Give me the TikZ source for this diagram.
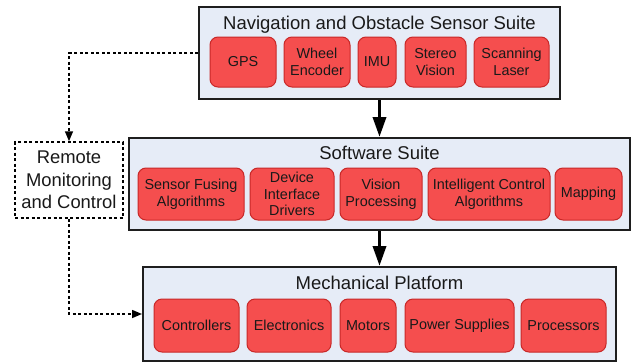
\documentclass[tikz,border=0pt]{standalone}
\usepackage{fontspec}
\setmainfont{Liberation Sans}
\usetikzlibrary{arrows.meta}
\definecolor{innerfill}{RGB}{245,78,78}
\definecolor{innerdraw}{RGB}{200,40,40}
\definecolor{outerfill}{RGB}{230,236,247}
\definecolor{outerdraw}{RGB}{30,30,30}
\definecolor{txt}{RGB}{25,25,25}
\tikzset{
  outerbox/.style={draw=outerdraw, line width=2pt, fill=outerfill, inner sep=0pt},
  unit/.style={draw=innerdraw, line width=1pt, fill=innerfill, rounded corners=8pt,
    align=center, inner sep=0pt, text=txt, minimum height=#1,
    font=\fontsize{14.4}{16.7}\selectfont},
  title/.style={anchor=base, text=txt, inner sep=0pt, font=\fontsize{18.5}{22}\selectfont},
  remotebox/.style={draw=black, line width=1.5pt, dash pattern=on 3pt off 2.5pt, fill=white,
    align=center, inner sep=0pt, text=txt, font=\fontsize{18.4}{22.5}\selectfont},
  bigarrow/.style={draw=black, line width=3.5pt, -{Triangle[width=13pt,length=20pt]}},
  dasharrow/.style={draw=black, line width=1.5pt, dash pattern=on 3pt off 2.5pt,
    -{Triangle[width=8pt,length=10pt]}},
}
\begin{document}
\begin{tikzpicture}[x=1pt,y=-1pt]
\useasboundingbox (0,0) rectangle (632,362);
% top box
\node[outerbox, minimum width=361pt, minimum height=92pt] (nav) at (379.5,53) {};
\node[title] (navt) at (379.5,29) {Navigation and Obstacle Sensor Suite};
\node[unit=50pt, minimum width=66pt] (gps) at (243,62) {GPS};
\node[unit=50pt, minimum width=66pt] (wheel) at (317,62) {Wheel\\Encoder};
\node[unit=50pt, minimum width=38pt] (imu) at (377,62) {IMU};
\node[unit=50pt, minimum width=61pt] (stereo) at (435.5,62) {Stereo\\Vision};
\node[unit=50pt, minimum width=75pt] (laser) at (511.5,62) {Scanning\\Laser};
% software box
\node[outerbox, minimum width=501pt, minimum height=92pt] (soft) at (379.5,184) {};
\node[title] (softt) at (379.5,159) {Software Suite};
\node[unit=52pt, minimum width=106pt] (fuse) at (191,194) {Sensor Fusing\\Algorithms};
\node[unit=52pt, minimum width=84pt] (dev) at (292,194) {Device\\Interface\\Drivers};
\node[unit=52pt, minimum width=82pt] (vis) at (381,194) {Vision\\Processing};
\node[unit=52pt, minimum width=122pt] (intel) at (489,194) {Intelligent Control\\Algorithms};
\node[unit=52pt, minimum width=67pt] (map) at (588.5,194) {Mapping};
% mechanical box
\node[outerbox, minimum width=473pt, minimum height=94pt] (mech) at (379.5,314) {};
\node[title] (mecht) at (379.5,289) {Mechanical Platform};
\node[unit=53pt, minimum width=85pt] (ctrl) at (196.5,325.5) {Controllers};
\node[unit=53pt, minimum width=84pt] (elec) at (289,325.5) {Electronics};
\node[unit=53pt, minimum width=56pt] (mot) at (368,325.5) {Motors};
\node[unit=53pt, minimum width=109pt] (pow) at (459.5,325.5) {Power Supplies};
\node[unit=53pt, minimum width=85pt] (proc) at (563.5,325.5) {Processors};
% remote
\node[remotebox, minimum width=108pt, minimum height=76pt] (remote) at (69,180) {Remote\\Monitoring\\and Control};
% connectors
\draw[bigarrow] (nav.south) -- (soft.north);
\draw[bigarrow] (soft.south) -- (mech.north);
\coordinate (c1) at (69,53);
\coordinate (c2) at (69,314);
\draw[dasharrow] (nav.west) -- (c1) -- (remote.north);
\draw[dasharrow] (remote.south) -- (c2) -- (mech.west);
\end{tikzpicture}
\end{document}
